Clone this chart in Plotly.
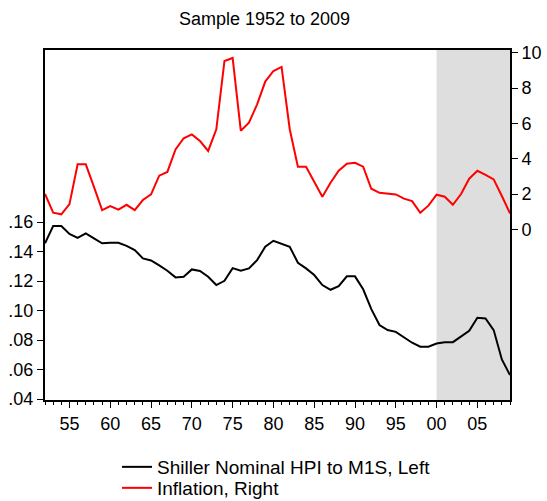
import plotly.graph_objects as go

years = list(range(1952, 2010))

hpi_m1s = [0.1456, 0.1573, 0.1573, 0.1519, 0.1492, 0.1523, 0.1489, 0.1456, 0.1460, 0.1460,
           0.1439, 0.1410, 0.1354, 0.1340, 0.1306, 0.1270, 0.1225, 0.1229, 0.1279, 0.1268,
           0.1229, 0.1173, 0.1202, 0.1288, 0.1270, 0.1286, 0.1342, 0.1433, 0.1473, 0.1451,
           0.1433, 0.1324, 0.1286, 0.1241, 0.1173, 0.1141, 0.1166, 0.1232, 0.1232, 0.1144,
           0.1010, 0.0902, 0.0868, 0.0856, 0.0818, 0.0782, 0.0755, 0.0755, 0.0777, 0.0786,
           0.0786, 0.0822, 0.0863, 0.0951, 0.0947, 0.0868, 0.0669, 0.0563]

inflation = [2.00, 0.94, 0.85, 1.43, 3.68, 3.68, 2.40, 1.09, 1.32, 1.11,
             1.39, 1.09, 1.66, 1.98, 3.04, 3.25, 4.53, 5.16, 5.38, 5.00,
             4.44, 5.67, 9.54, 9.71, 5.59, 6.04, 7.08, 8.37, 8.97, 9.20,
             5.67, 3.55, 3.55, 2.70, 1.85, 2.64, 3.32, 3.72, 3.77, 3.55,
             2.30, 2.07, 2.02, 1.98, 1.74, 1.60, 0.94, 1.34, 1.96, 1.85,
             1.39, 2.00, 2.87, 3.32, 3.09, 2.83, 1.89, 0.90]

shade_start, shade_end = 2000, 2009

x_tickvals = [1955, 1960, 1965, 1970, 1975, 1980, 1985, 1990, 1995, 2000, 2005]
x_ticktext = ["55", "60", "65", "70", "75", "80", "85", "90", "95", "00", "05"]
left_tickvals = [0.04, 0.06, 0.08, 0.10, 0.12, 0.14, 0.16]
left_ticktext = [".04", ".06", ".08", ".10", ".12", ".14", ".16"]
right_tickvals = [0, 2, 4, 6, 8, 10]
right_ticktext = ["0", "2", "4", "6", "8", "10"]

FONT = "Liberation Sans, Arial, Helvetica, sans-serif"
W, H = 547, 501

fig = go.Figure()
fig.add_trace(go.Scatter(x=years, y=hpi_m1s, mode="lines", name="Shiller Nominal HPI to M1S, Left",
                         line=dict(color="black", width=2), yaxis="y", legend="legend"))
fig.add_trace(go.Scatter(x=years, y=inflation, mode="lines", name="Inflation, Right",
                         line=dict(color="#ff0000", width=2), yaxis="y2", legend="legend2"))

fig.add_shape(type="rect", xref="x", yref="paper", x0=shade_start, x1=shade_end, y0=0, y1=1,
              fillcolor="#dedede", line=dict(width=0), layer="below")

leg_common = dict(xref="container", yref="container", xanchor="left", yanchor="middle",
                  orientation="v", font=dict(family=FONT, size=19, color="black"),
                  bgcolor="rgba(0,0,0,0)", borderwidth=0, itemwidth=30)

fig.update_layout(
    width=W, height=H,
    margin=dict(l=45, r=37, t=50, b=101, autoexpand=False),
    paper_bgcolor="white", plot_bgcolor="white",
    font=dict(family=FONT, size=18, color="black"),
    title=dict(text="Sample 1952 to 2009", xref="container", yref="container",
               x=264.5 / W, xanchor="center", y=1 - 19 / H, yanchor="middle",
               font=dict(family=FONT, size=18, color="black")),
    xaxis=dict(range=[1952, 2009], tickvals=x_tickvals, ticktext=x_ticktext,
               ticks="outside", ticklen=6, tickwidth=1, tickcolor="black",
               minor=dict(dtick=1, tick0=1952, ticks="outside", ticklen=3, tickcolor="black", tickwidth=1),
               showline=True, linecolor="black", linewidth=2, mirror=True,
               showgrid=False, zeroline=False, tickfont=dict(size=18), automargin=False),
    yaxis=dict(range=[0.0394, 0.2766], tickvals=left_tickvals, ticktext=left_ticktext,
               ticks="outside", ticklen=6, tickcolor="black",
               showline=True, linecolor="black", linewidth=2,
               showgrid=False, zeroline=False, tickfont=dict(size=18), automargin=False),
    yaxis2=dict(range=[-9.67, 10.16], tickvals=right_tickvals, ticktext=right_ticktext,
                overlaying="y", side="right",
                ticks="outside", ticklen=6, tickcolor="black",
                showline=True, linecolor="black", linewidth=2,
                showgrid=False, zeroline=False, tickfont=dict(size=18), automargin=False),
    showlegend=True,
    legend=dict(x=117 / W, y=1 - 467 / H, **leg_common),
    legend2=dict(x=117 / W, y=1 - 488 / H, **leg_common),
)

fig.write_html("out.html", config={"displayModeBar": False},
               post_script="document.body.style.margin='0';document.body.style.overflow='hidden';")
